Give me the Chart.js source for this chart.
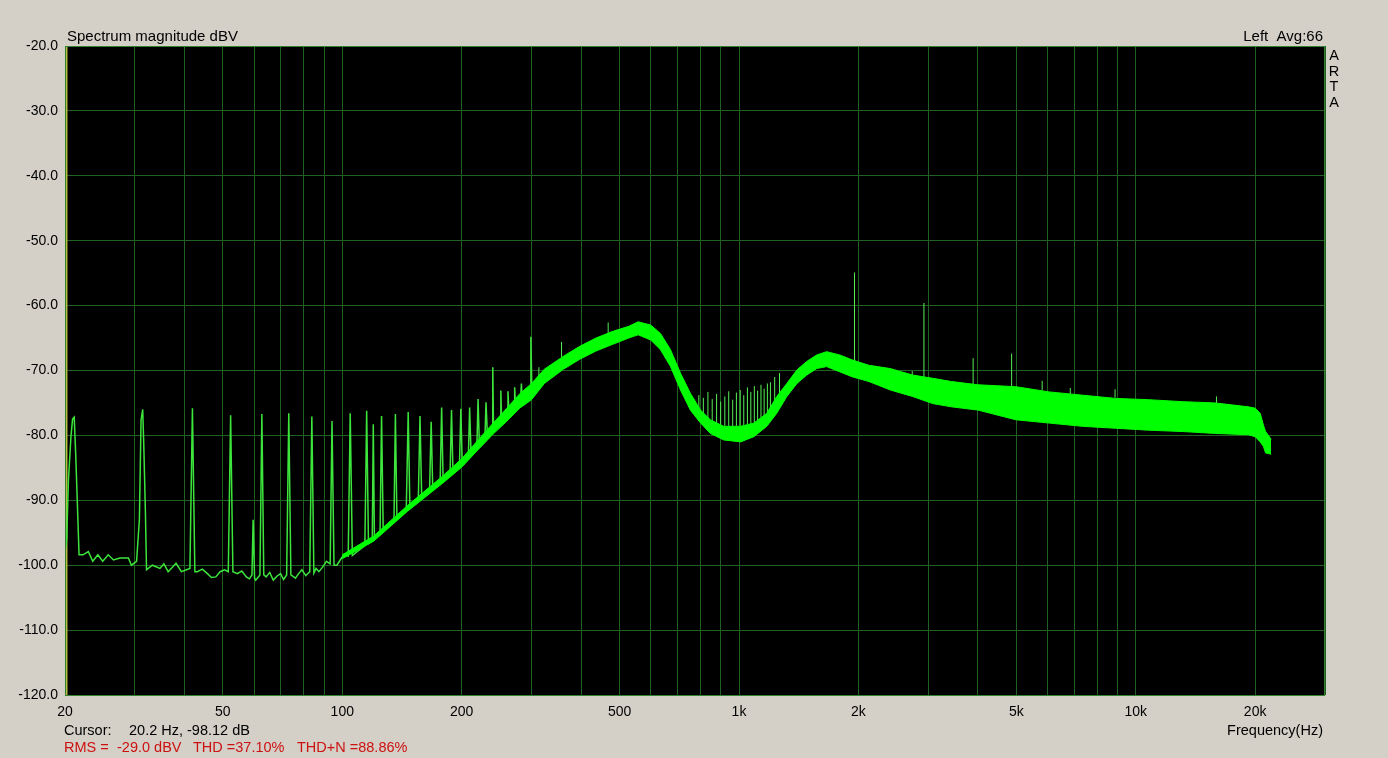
<!DOCTYPE html>
<html>
<head>
<meta charset="utf-8">
<script src="https://cdn.jsdelivr.net/npm/chart.js@4.4.1/dist/chart.umd.min.js"></script>
<style>
  html, body { margin: 0; padding: 0; background: #D4D0C8; }
  #wrap { width: 1388px; height: 758px; }
</style>
</head>
<body>
<div id="wrap"><canvas id="spectrum" width="1388" height="758"></canvas></div>
<script>
// x grid positions (Hz) and the ones that get a label
const gridFreqs = [20, 30, 40, 50, 60, 70, 80, 90, 100, 200, 300, 400, 500, 600, 700, 800, 900,
    1000, 2000, 3000, 4000, 5000, 6000, 7000, 8000, 9000, 10000, 20000, 30000];
const freqLabels = { 20: '20', 50: '50', 100: '100', 200: '200', 500: '500', 1000: '1k',
    2000: '2k', 5000: '5k', 10000: '10k', 20000: '20k' };

// low end of the spectrum, single thin trace with harmonic spikes
const lowFreq = [20.0, 20.2, 20.4, 20.7, 20.9, 21.1, 21.3, 21.5, 21.7, 22.2, 22.9, 23.5, 24.2, 24.9,
    25.7, 26.5, 27.5, 28.9, 29.4, 30.3, 30.8, 31.1, 31.4, 31.6, 31.9, 32.1, 33.2, 34.7, 35.5, 36.4,
    37.2, 38.1, 39.3, 40.5, 41.3, 41.9, 42.5, 43.1, 44.4, 45.7, 46.8, 48.0, 49.2, 50.5, 51.6, 52.3,
    53.0, 54.4, 55.8, 57.3, 58.3, 59.2, 59.6, 60.1, 60.5, 62.0, 62.7, 63.4, 64.3, 65.6, 67.0, 68.4,
    69.9, 71.1, 72.4, 73.3, 74.2, 76.2, 77.6, 79.1, 80.9, 82.8, 83.8, 84.8, 85.9, 87.3, 89.2, 91.2,
    93.2, 94.2, 95.3, 96.9, 98.8, 100.8, 103.5, 104.7, 106.0, 109.0, 114.0, 115.2, 116.4, 119.0,
    119.7, 120.5, 124.5, 125.6, 126.8, 131.0, 135.0, 136.1, 137.3, 145.0, 146.6, 148.0, 155.5,
    157.0, 158.5, 166.0, 167.5, 169.0, 176.5, 178.0, 179.5, 187.0, 188.5, 190.0, 197.5, 199.0,
    200.5, 208.0, 209.4, 211.0, 218.5, 219.9, 221.5, 229.0, 230.3, 232.0, 238.5, 239.5, 240.5,
    250.0, 251.0, 252.0, 260.5, 261.6, 263.0, 271.0, 272.0, 273.0, 281.5, 282.8, 284.0, 297.5,
    298.8, 300.5];
const lowLevel = [-98.0, -96.0, -87.0, -80.2, -77.5, -77.2, -83.5, -91.0, -98.4, -98.4, -97.9, -99.4,
    -98.4, -99.4, -98.4, -99.2, -98.9, -98.9, -100.0, -99.4, -93.0, -77.6, -76.0, -81.7, -92.0,
    -100.7, -100.0, -100.5, -99.8, -101.0, -100.4, -99.7, -101.0, -100.7, -100.5, -75.8, -101.0,
    -101.0, -100.6, -101.3, -101.9, -101.8, -101.0, -100.7, -101.0, -76.9, -101.0, -101.3, -100.9,
    -101.8, -102.1, -101.5, -93.0, -102.0, -102.3, -101.5, -76.7, -101.5, -101.8, -101.1, -102.3,
    -101.7, -101.3, -102.2, -101.5, -76.6, -101.5, -102.0, -101.3, -100.7, -101.6, -101.0, -77.1,
    -101.2, -100.5, -101.0, -100.3, -99.4, -99.8, -77.8, -100.0, -100.0, -99.2, -98.4, -98.6, -76.6,
    -98.5, -97.9, -97.0, -76.2, -96.6, -96.0, -78.3, -95.9, -95.1, -77.0, -94.7, -93.9, -93.1, -76.7,
    -92.8, -91.3, -76.4, -90.8, -89.7, -77.0, -89.3, -88.3, -77.9, -88.0, -87.0, -75.7, -86.7,
    -85.5, -76.1, -85.1, -84.1, -75.9, -83.8, -82.6, -75.7, -82.3, -81.3, -74.4, -81.0, -79.8,
    -74.9, -79.5, -78.8, -69.5, -78.5, -77.5, -73.1, -77.3, -76.5, -73.2, -76.2, -75.3, -72.6,
    -75.1, -74.4, -72.0, -74.2, -73.0, -64.8, -72.8];

// noisy band: upper and lower envelope (dBV)
const bandFreq = [100, 120, 146, 178, 200, 220, 240, 260, 280, 300, 323, 361, 396, 436, 479, 527,
    557, 599, 634, 672, 712, 754, 800, 847, 915, 1009, 1090, 1175, 1245, 1320, 1400, 1482, 1570,
    1663, 1793, 1935, 2126, 2406, 2738, 3078, 3433, 4003, 4990, 6052, 7339, 8900, 10790, 13090,
    15870, 19240, 20000, 20600, 20980, 21250, 21950];
const bandTop = [-98.4, -95.5, -90.8, -86.4, -83.6, -80.7, -78.1, -75.8, -73.6, -72.0, -69.8, -67.8,
    -66.3, -65.0, -64.0, -63.2, -62.5, -63.0, -64.3, -66.8, -70.4, -73.5, -76.1, -77.6, -78.6, -78.6,
    -78.1, -76.6, -74.0, -72.0, -69.9, -68.6, -67.6, -67.1, -67.6, -68.4, -69.2, -69.7, -70.7,
    -71.2, -71.7, -72.2, -72.5, -73.3, -73.8, -74.3, -74.5, -74.8, -75.0, -75.6, -75.8, -76.6,
    -78.4, -79.4, -80.6];
const bandBottom = [-99.0, -96.3, -91.7, -87.5, -84.9, -82.2, -79.8, -77.8, -75.8, -74.5, -72.0, -69.8,
    -68.3, -67.0, -66.0, -65.0, -64.5, -65.3, -66.8, -69.4, -73.0, -76.1, -78.1, -79.7, -80.7, -81.0,
    -80.2, -78.6, -76.6, -74.0, -72.0, -70.7, -69.7, -69.4, -70.2, -71.0, -71.7, -73.0, -74.0,
    -75.1, -75.6, -76.1, -77.6, -78.1, -78.6, -78.9, -79.2, -79.4, -79.7, -79.9, -80.2, -81.0,
    -81.7, -82.7, -82.9];

// harmonic lines sticking out of the band
const spikeFreq = [313, 357, 468, 770, 792, 813, 835, 856, 878, 899, 921, 942, 964, 985, 1007, 1028,
    1050, 1071, 1093, 1114, 1136, 1157, 1179, 1200, 1230, 1265, 1955, 2733, 2925, 3892, 4866,
    5810, 6840, 8870, 15980];
const spikeTop = [-69.5, -65.6, -62.6, -74.5, -73.8, -74.2, -73.3, -74.4, -73.6, -74.8, -74.0, -73.2,
    -74.5, -73.4, -73.0, -73.8, -72.6, -73.3, -72.4, -73.1, -72.2, -72.8, -72.0, -71.8, -71.0,
    -70.4, -54.9, -70.1, -59.6, -68.1, -67.4, -71.6, -72.7, -72.9, -74.0];
const spikeBase = [-71.0, -68.0, -64.5, -76.5, -77.0, -77.5, -78.0, -78.0, -78.3, -78.5, -78.6, -78.6,
    -78.6, -78.6, -78.6, -78.5, -78.3, -78.2, -78.0, -77.7, -77.3, -77.0, -76.5, -76.0, -74.8,
    -73.5, -68.8, -71.0, -71.2, -72.2, -72.5, -73.0, -73.6, -74.2, -75.0];

const cursorFreq = 20.2;

const xy = (xs, ys) => xs.map((x, i) => ({ x: x, y: ys[i] }));

const spikeXY = [];
spikeFreq.forEach((f, i) => {
    spikeXY.push({ x: f, y: spikeBase[i] }, { x: f, y: spikeTop[i] }, { x: f, y: null });
});

const FONT = "'Liberation Sans', Arial, sans-serif";

const artaPlugin = {
    id: 'arta',
    beforeDraw(chart) {
        const { ctx, chartArea: a } = chart;
        ctx.save();
        ctx.fillStyle = '#D4D0C8';
        ctx.fillRect(0, 0, chart.width, chart.height);
        ctx.fillStyle = '#000000';
        ctx.fillRect(a.left, a.top, a.right - a.left, a.bottom - a.top);
        ctx.restore();
    },
    afterDraw(chart) {
        const { ctx, chartArea: a } = chart;
        ctx.save();
        ctx.strokeStyle = 'rgb(50,130,50)';
        ctx.lineWidth = 1;
        ctx.strokeRect(a.left + 0.5, a.top + 0.5, a.right - a.left - 1, a.bottom - a.top);

        ctx.fillStyle = '#000000';
        ctx.textBaseline = 'alphabetic';
        ctx.font = '15px ' + FONT;
        ctx.textAlign = 'left';
        ctx.fillText('Spectrum magnitude dBV', 67, 41);
        ctx.textAlign = 'right';
        ctx.fillText('Left  Avg:66', 1323, 41);

        ctx.textAlign = 'center';
        ctx.font = '14.5px ' + FONT;
        ['A', 'R', 'T', 'A'].forEach((ch, i) => ctx.fillText(ch, 1334, 60 + i * 15.5));

        ctx.textAlign = 'left';
        ctx.fillText('Cursor:', 64, 735);
        ctx.fillText('20.2 Hz, -98.12 dB', 129, 735);
        ctx.textAlign = 'right';
        ctx.fillText('Frequency(Hz)', 1323, 735);

        ctx.textAlign = 'left';
        ctx.fillStyle = '#CC1111';
        ctx.fillText('RMS =', 64, 752);
        ctx.fillText('-29.0 dBV', 117, 752);
        ctx.fillText('THD =37.10%', 193, 752);
        ctx.fillText('THD+N =88.86%', 297, 752);
        ctx.restore();
    }
};

new Chart(document.getElementById('spectrum'), {
    type: 'scatter',
    data: {
        datasets: [
            {
                label: 'band low',
                data: xy(bandFreq, bandBottom),
                showLine: true,
                borderColor: '#00FF00',
                borderWidth: 1,
                pointRadius: 0,
                fill: false
            },
            {
                label: 'band high',
                data: xy(bandFreq, bandTop),
                showLine: true,
                borderColor: '#00FF00',
                backgroundColor: '#00FF00',
                borderWidth: 1,
                pointRadius: 0,
                fill: '-1'
            },
            {
                label: 'trace',
                data: xy(lowFreq, lowLevel),
                showLine: true,
                borderColor: '#3CE43C',
                borderWidth: 1.5,
                pointRadius: 0
            },
            {
                label: 'spikes',
                data: spikeXY,
                showLine: true,
                spanGaps: false,
                borderColor: '#55EE55',
                borderWidth: 1,
                pointRadius: 0
            },
            {
                label: 'cursor',
                data: [{ x: cursorFreq, y: -20 }, { x: cursorFreq, y: -120 }],
                showLine: true,
                borderColor: '#B8C040',
                borderWidth: 1,
                pointRadius: 0
            }
        ]
    },
    options: {
        responsive: false,
        animation: false,
        layout: { padding: { top: 46, right: 63, left: 0, bottom: 0 } },
        plugins: {
            legend: { display: false },
            tooltip: { enabled: false }
        },
        scales: {
            x: {
                type: 'logarithmic',
                min: 20,
                max: 30000,
                afterBuildTicks: (scale) => {
                    scale.ticks = gridFreqs.map(v => ({ value: v }));
                },
                afterFit: (scale) => { scale.height = 63; },
                grid: { color: 'rgb(32,96,32)', drawTicks: false },
                border: { display: false },
                ticks: {
                    autoSkip: false,
                    maxRotation: 0,
                    padding: 9,
                    color: '#000000',
                    font: { family: FONT, size: 14 },
                    callback: (v) => freqLabels[v] || ''
                }
            },
            y: {
                min: -120,
                max: -20,
                afterFit: (scale) => { scale.width = 65; },
                grid: { color: 'rgb(32,96,32)', drawTicks: false },
                border: { display: false },
                ticks: {
                    stepSize: 10,
                    padding: 7,
                    color: '#000000',
                    font: { family: FONT, size: 14 },
                    callback: (v) => v.toFixed(1)
                }
            }
        }
    },
    plugins: [artaPlugin]
});
</script>
</body>
</html>
